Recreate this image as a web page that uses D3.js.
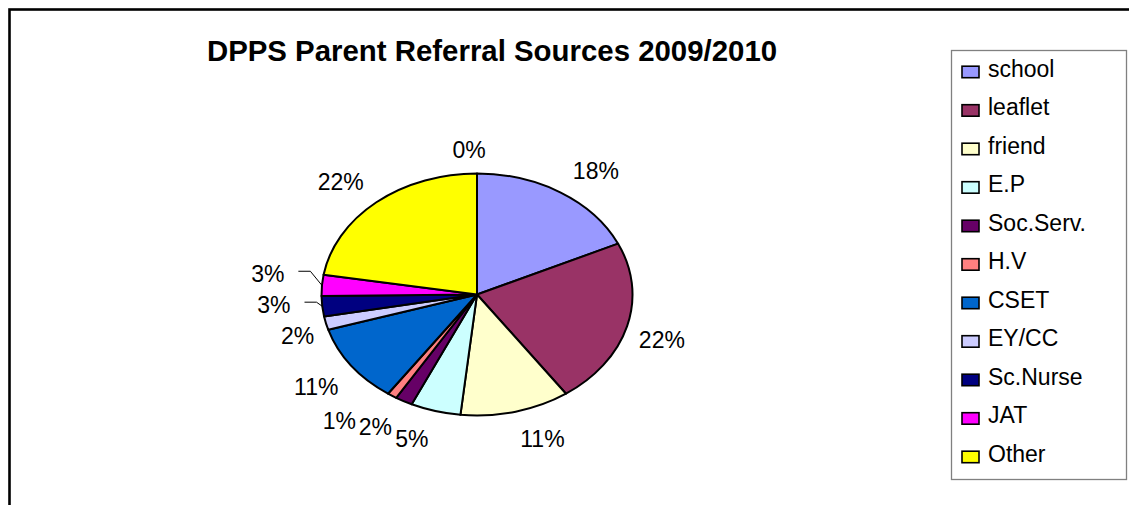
<!DOCTYPE html>
<html>
<head>
<meta charset="utf-8">
<title>DPPS Parent Referral Sources 2009/2010</title>
<script src="https://cdn.jsdelivr.net/npm/d3@7"></script>
<style>
  body { margin: 0; background: #fff; }
  text { font-family: Arial, "Liberation Sans", sans-serif; fill: #000; }
</style>
</head>
<body>
<div id="chart"></div>
<script>
// chart data (shares in %)
const categories = ["school", "leaflet", "friend", "E.P", "Soc.Serv.", "H.V", "CSET", "EY/CC", "Sc.Nurse", "JAT", "Other", ""];
const shares = [18.1, 22.2, 11.4, 5.2, 1.8, 1.0, 10.6, 1.8, 2.7, 2.8, 22.4, 0];
const sliceColors = ["#9999ff", "#993366", "#ffffcc", "#ccffff", "#660066", "#ff8080",
                     "#0066cc", "#ccccff", "#000080", "#ff00ff", "#ffff00", "#ffffff"];
const title = "DPPS Parent Referral Sources 2009/2010";

const width = 1129, height = 505;
const cx = 477, cy = 294.5, rx = 155.5, ry = 121;

const svg = d3.select('#chart').append('svg')
  .attr('width', width)
  .attr('height', height);

// outer chart frame (cut off on the right and bottom)
svg.append('rect')
  .attr('x', 9.5).attr('y', 9.5)
  .attr('width', 1300).attr('height', 700)
  .attr('fill', 'none')
  .attr('stroke', '#000')
  .attr('stroke-width', 2.6);

svg.append('text')
  .attr('x', 492).attr('y', 61)
  .attr('text-anchor', 'middle')
  .style('font-size', '29.4px')
  .style('font-weight', 'bold')
  .text(title);

const data = categories.map((name, i) => ({ name, value: shares[i], color: sliceColors[i] }));
const total = d3.sum(shares);

const pie = d3.pie().sort(null).value(d => d.value);
const arcs = pie(data);
const arc = d3.arc().innerRadius(0).outerRadius(rx);

// flat pie squashed into an ellipse
const pieG = svg.append('g')
  .attr('transform', `translate(${cx},${cy}) scale(1,${ry / rx})`);

pieG.selectAll('path')
  .data(arcs.filter(d => d.value > 0))
  .enter()
  .append('path')
  .attr('d', arc)
  .attr('fill', d => d.data.color)
  .attr('stroke', '#000')
  .attr('stroke-width', 2)
  .attr('stroke-linejoin', 'round')
  .attr('vector-effect', 'non-scaling-stroke');

// percentage labels, outside end
const labelG = svg.append('g').attr('transform', `translate(${cx},${cy})`);
const gx = 10, gy = 16, capH = 17, padX = 8, boxH = 30;
const clamp = v => Math.max(-1, Math.min(1, v));
const placed = [];

arcs.forEach(d => {
  const a = (d.startAngle + d.endAngle) / 2;
  const s = Math.sin(a), c = Math.cos(a);
  const t = labelG.append('text')
    .attr('text-anchor', 'middle')
    .style('font-size', '23px')
    .text(Math.round(d.value / total * 100) + '%');
  const w = t.node().getComputedTextLength();
  const halfH = c < 0 ? capH / 2 + 3 : capH / 2;
  let x = s * (rx + gx) + (w / 2) * clamp(3 * s) + Math.sign(s) * padX * Math.abs(c);
  let y = -c * (ry + gy) + halfH * clamp(-3 * c);
  const hit = () => placed.some(b =>
    Math.abs(b.x - x) < (b.w + w) / 2 + 2 && Math.abs(b.y - y) < boxH);
  const side = Math.abs(s) > Math.abs(c);
  let n = 0;
  while (hit() && n < 200) {
    // slide out and up/down along the sides, sideways near the bottom/top
    if (side) { y += s < 0 ? -1 : 1; x += s < 0 ? -3 : 3; }
    else x += s < 0 ? -1 : 1;
    n++;
  }
  placed.push({ x, y, w });
  t.attr('x', x).attr('y', y + capH / 2);

  // leader line for side labels pushed well away from their slice
  if (side && n > 6) {
    const ex = s * rx, ey = -c * ry;
    const x0 = x - Math.sign(s) * (w / 2 + 14);
    const x1 = x0 - Math.sign(s) * 12;
    labelG.append('path')
      .attr('d', d3.line()([[x0, y - 2], [x1, y - 2], [ex, ey]]))
      .attr('fill', 'none')
      .attr('stroke', '#000')
      .attr('stroke-width', 1);
  }
});

// legend
const legend = svg.append('g');
legend.append('rect')
  .attr('x', 951.5).attr('y', 50.5)
  .attr('width', 175).attr('height', 429)
  .attr('fill', '#fff')
  .attr('stroke', '#808080')
  .attr('stroke-width', 1.3);

const rows = legend.selectAll('.item')
  .data(data.filter(d => d.name !== ''))
  .enter()
  .append('g')
  .attr('class', 'item')
  .attr('transform', (d, i) => `translate(0,${76.7 + i * 38.5})`);

rows.append('rect')
  .attr('x', 962).attr('y', -10.5)
  .attr('width', 17).attr('height', 11.5)
  .attr('fill', d => d.color)
  .attr('stroke', '#000')
  .attr('stroke-width', 1.6);

rows.append('text')
  .attr('x', 988).attr('y', 0)
  .style('font-size', '23px')
  .text(d => d.name);
</script>
</body>
</html>
